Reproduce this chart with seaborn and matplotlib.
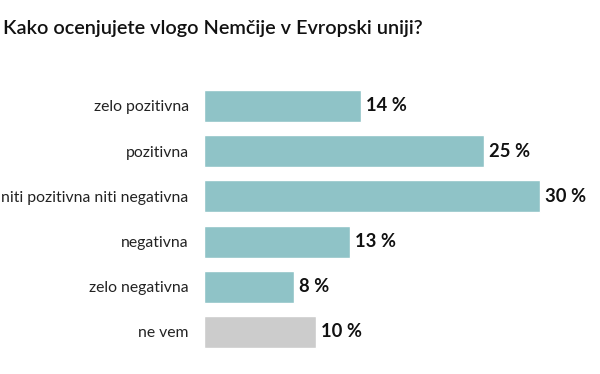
import matplotlib
matplotlib.use('Agg')
import matplotlib.pyplot as plt
import seaborn as sns
import pandas as pd

# podatki
categories = ['zelo pozitivna', 'pozitivna', 'niti pozitivna niti negativna',
              'negativna', 'zelo negativna', 'ne vem']
values = [14, 25, 30, 13, 8, 10]
value_labels = ['14 %', '25 %', '30 %', '13 %', '8 %', '10 %']
bar_colors = ['#8fc3c7', '#8fc3c7', '#8fc3c7', '#8fc3c7', '#8fc3c7', '#cccccc']

sns.set_theme(style='white')
plt.rcParams['font.family'] = ['Lato', 'DejaVu Sans']

df = pd.DataFrame({'kategorija': categories, 'delez': values})

fig = plt.figure(figsize=(6, 3.74), dpi=100)
ax = fig.add_axes([0.34, 0.052, 0.6533, 0.725])

sns.barplot(data=df, x='delez', y='kategorija', hue='kategorija',
            palette=bar_colors, legend=False, width=0.71, ax=ax,
            saturation=1)

for i, (v, lab) in enumerate(zip(values, value_labels)):
    ax.text(v + 0.45, i, lab, va='center', ha='left', fontsize=13.2,
            fontweight='bold', color='#111111')

ax.set_xlim(0, 35)
ax.set_ylim(5.5, -0.5)
ax.set_xlabel('')
ax.set_ylabel('')
ax.set_xticks([])
ax.tick_params(axis='y', length=0, pad=11, labelsize=11.3, labelcolor='#222222')
sns.despine(ax=ax, left=True, bottom=True)

fig.text(0.005, 0.925, 'Kako ocenjujete vlogo Nemčije v Evropski uniji?',
         fontsize=14.3, fontweight='semibold', color='#111111',
         ha='left', va='center')

fig.savefig('out.png', dpi=100)
